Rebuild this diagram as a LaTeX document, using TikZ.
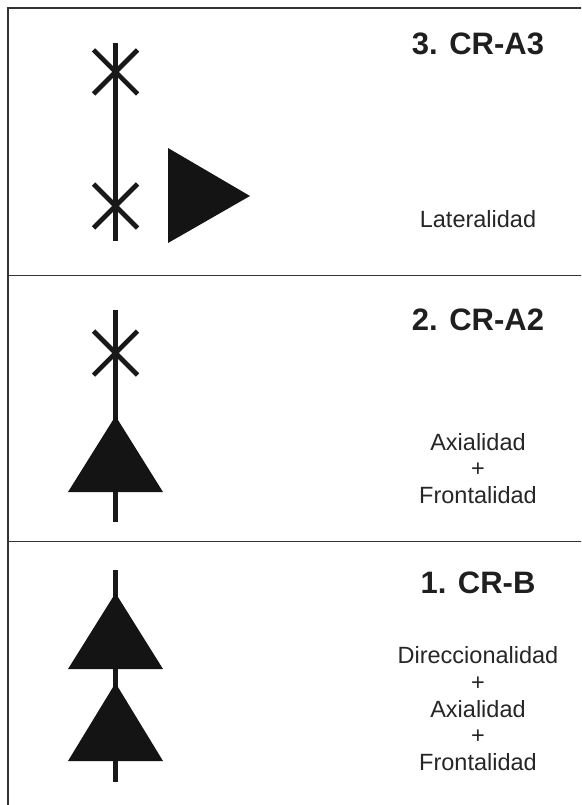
\documentclass[tikz,border=0pt]{standalone}
\usepackage{fontspec}
\setmainfont{Liberation Sans}
\begin{document}
\begin{tikzpicture}[x=1pt,y=-1pt,
  frame/.style={line width=1.3pt, draw=black!80},
  axis/.style={line width=4.2pt, draw=black!90},
  crossarm/.style={line width=4.6pt, draw=black!90},
  wedge/.style={fill=black!92},
  title/.style={font=\bfseries\fontsize{31}{31}\selectfont, text=black!88, anchor=base, inner sep=0pt},
  label/.style={font=\fontsize{23.5}{23.5}\selectfont, text=black!85, anchor=base, inner sep=0pt}]
\useasboundingbox (0,0) rectangle (581,805);
\begin{scope}
\clip (0,0) rectangle (581,805);
% table frame: open on the right and at the bottom
\draw[frame] (590,8) -- (8,8) -- (8,815);
\draw[frame] (8,275.5) -- (590,275.5);
\draw[frame] (8,541.5) -- (590,541.5);
\end{scope}

% ---- 3. CR-A3 : axis with two crosses, side wedge
\draw[axis] (115.5,43) -- (115.5,241);
\draw[crossarm] (93.5,50) -- (137.5,94) (93.5,94) -- (137.5,50);
\draw[crossarm] (93.5,184) -- (137.5,228) (93.5,228) -- (137.5,184);
\fill[wedge] (168,148) -- (250,196) -- (168,243) -- cycle;
\node[title] (t3) at (478,55) {3. CR-A3};
\node[label] (l3) at (478,227) {Lateralidad};

% ---- 2. CR-A2 : axis with one cross and one wedge
\draw[axis] (115.5,310) -- (115.5,522);
\draw[crossarm] (93.5,331) -- (137.5,375) (93.5,375) -- (137.5,331);
\fill[wedge] (115.5,416) -- (163,492) -- (68,492) -- cycle;
\node[title] (t2) at (478,330) {2. CR-A2};
\node[label] (l2a) at (478,450) {Axialidad};
\node[label] (l2b) at (478,476.5) {+};
\node[label] (l2c) at (478,503) {Frontalidad};

% ---- 1. CR-B : axis with two wedges
\draw[axis] (115.5,570) -- (115.5,782);
\fill[wedge] (115.5,593) -- (163,669) -- (68,669) -- cycle;
\fill[wedge] (115.5,683) -- (163,761) -- (68,761) -- cycle;
\node[title] (t1) at (478,593) {1. CR-B};
\node[label] (l1a) at (478,663) {Direccionalidad};
\node[label] (l1b) at (478,690) {+};
\node[label] (l1c) at (478,717) {Axialidad};
\node[label] (l1d) at (478,743.5) {+};
\node[label] (l1e) at (478,770) {Frontalidad};
\end{tikzpicture}
\end{document}
